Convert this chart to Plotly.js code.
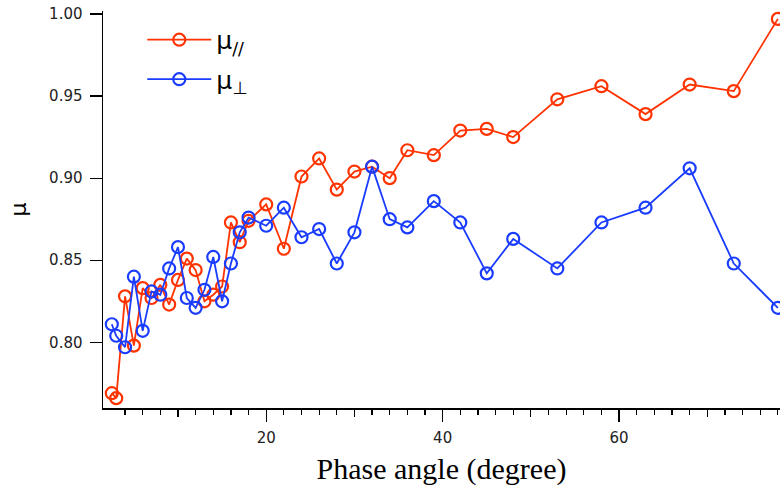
<!DOCTYPE html>
<html>
<head>
<meta charset="utf-8">
<script src="https://cdn.plot.ly/plotly-3.0.1.min.js"></script>
<style>html,body{margin:0;padding:0;background:#fff;}#chart{width:780px;height:490px;}</style>
</head>
<body>
<div id="chart"></div>
<script>
const phaseAngle = [2.5, 3, 4, 5, 6, 7, 8, 9, 10, 11, 12, 13, 14, 15, 16, 17, 18, 20, 22, 24, 26, 28, 30, 32, 34, 36, 39, 42, 45, 48, 53, 58, 63, 68, 73, 78];
const muParallel = [0.769, 0.766, 0.828, 0.798, 0.833, 0.827, 0.835, 0.823, 0.838, 0.851, 0.844, 0.825, 0.829, 0.834, 0.873, 0.861, 0.874, 0.884, 0.857, 0.901, 0.912, 0.893, 0.904, 0.907, 0.900, 0.917, 0.914, 0.929, 0.930, 0.925, 0.948, 0.956, 0.939, 0.957, 0.953, 0.997];
const muPerp = [0.811, 0.804, 0.797, 0.840, 0.807, 0.831, 0.829, 0.845, 0.858, 0.827, 0.821, 0.832, 0.852, 0.825, 0.848, 0.867, 0.876, 0.871, 0.882, 0.864, 0.869, 0.848, 0.867, 0.907, 0.875, 0.870, 0.886, 0.873, 0.842, 0.863, 0.845, 0.873, 0.882, 0.906, 0.848, 0.821];
const seriesNames = ['μ<sub>//</sub>', 'μ<sub>⊥</sub>'];
const xTitle = 'Phase angle (degree)';
const yTitle = 'μ';

const RED = '#ff3300', BLUE = '#1a3cff';
function trace(y, name, color, grp) {
  return {
    x: phaseAngle, y: y, name: name, type: 'scatter', mode: 'lines+markers',
    legendgroup: grp,
    line: {color: color, width: 1.8},
    marker: {symbol: 'circle-open', size: 12, color: color, line: {color: color, width: 2.2}}
  };
}
const minorVals = [];
for (let v = 4; v <= 78; v += 2) minorVals.push(v);

const data = [
  trace(muParallel, seriesNames[0], RED, 'a'),
  trace(muPerp, seriesNames[1], BLUE, 'b'),
  {x: [10], y: [0.5], xaxis: 'x2', yaxis: 'y', showlegend: false, hoverinfo: 'skip', mode: 'markers', marker: {opacity: 0}}
];

const layout = {
  width: 780, height: 490,
  margin: {l: 103, r: 0, t: 11, b: 82},
  paper_bgcolor: '#fff', plot_bgcolor: '#fff',
  showlegend: true,
  legend: {x: 0.058, y: 0.985, xanchor: 'left', yanchor: 'top', bgcolor: 'rgba(0,0,0,0)',
           font: {family: 'DejaVu Sans', size: 25, color: '#000'}, tracegroupgap: 4, itemwidth: 64},
  xaxis: {
    range: [1.5, 78.24], showgrid: false, zeroline: false,
    showline: true, linecolor: '#000', linewidth: 1.5,
    ticks: 'outside', ticklen: 12, tickwidth: 1.2, tickcolor: '#000',
    tick0: 0, dtick: 20, ticklabelstandoff: 3,
    minor: {tickvals: minorVals, ticks: 'outside', ticklen: 5, tickwidth: 1.2, tickcolor: '#000'},
    tickfont: {family: 'DejaVu Sans', size: 15, color: '#222'},
    title: {text: xTitle, font: {family: 'Liberation Serif', size: 30, color: '#000'}, standoff: 12}
  },
  xaxis2: {
    overlaying: 'x', anchor: 'y', side: 'bottom', range: [1.5, 78.24],
    showgrid: false, zeroline: false, showline: false, showticklabels: false,
    tickmode: 'array', tickvals: [10, 30, 50, 70], ticks: 'outside', ticklen: 8, tickwidth: 1.2, tickcolor: '#000'
  },
  yaxis: {
    range: [0.760, 1.0018], showgrid: false, zeroline: false,
    showline: true, linecolor: '#000', linewidth: 1.5,
    ticks: 'outside', ticklen: 12, tickwidth: 1.2, tickcolor: '#000',
    tick0: 0.8, dtick: 0.05, tickformat: '.2f', ticklabelstandoff: 4,
    tickfont: {family: 'DejaVu Sans', size: 15, color: '#222'},
    title: {text: yTitle, font: {family: 'DejaVu Sans', size: 22, color: '#000'}, standoff: 16}
  }
};

Plotly.newPlot('chart', data, layout, {displayModeBar: false, staticPlot: true});
</script>
</body>
</html>
